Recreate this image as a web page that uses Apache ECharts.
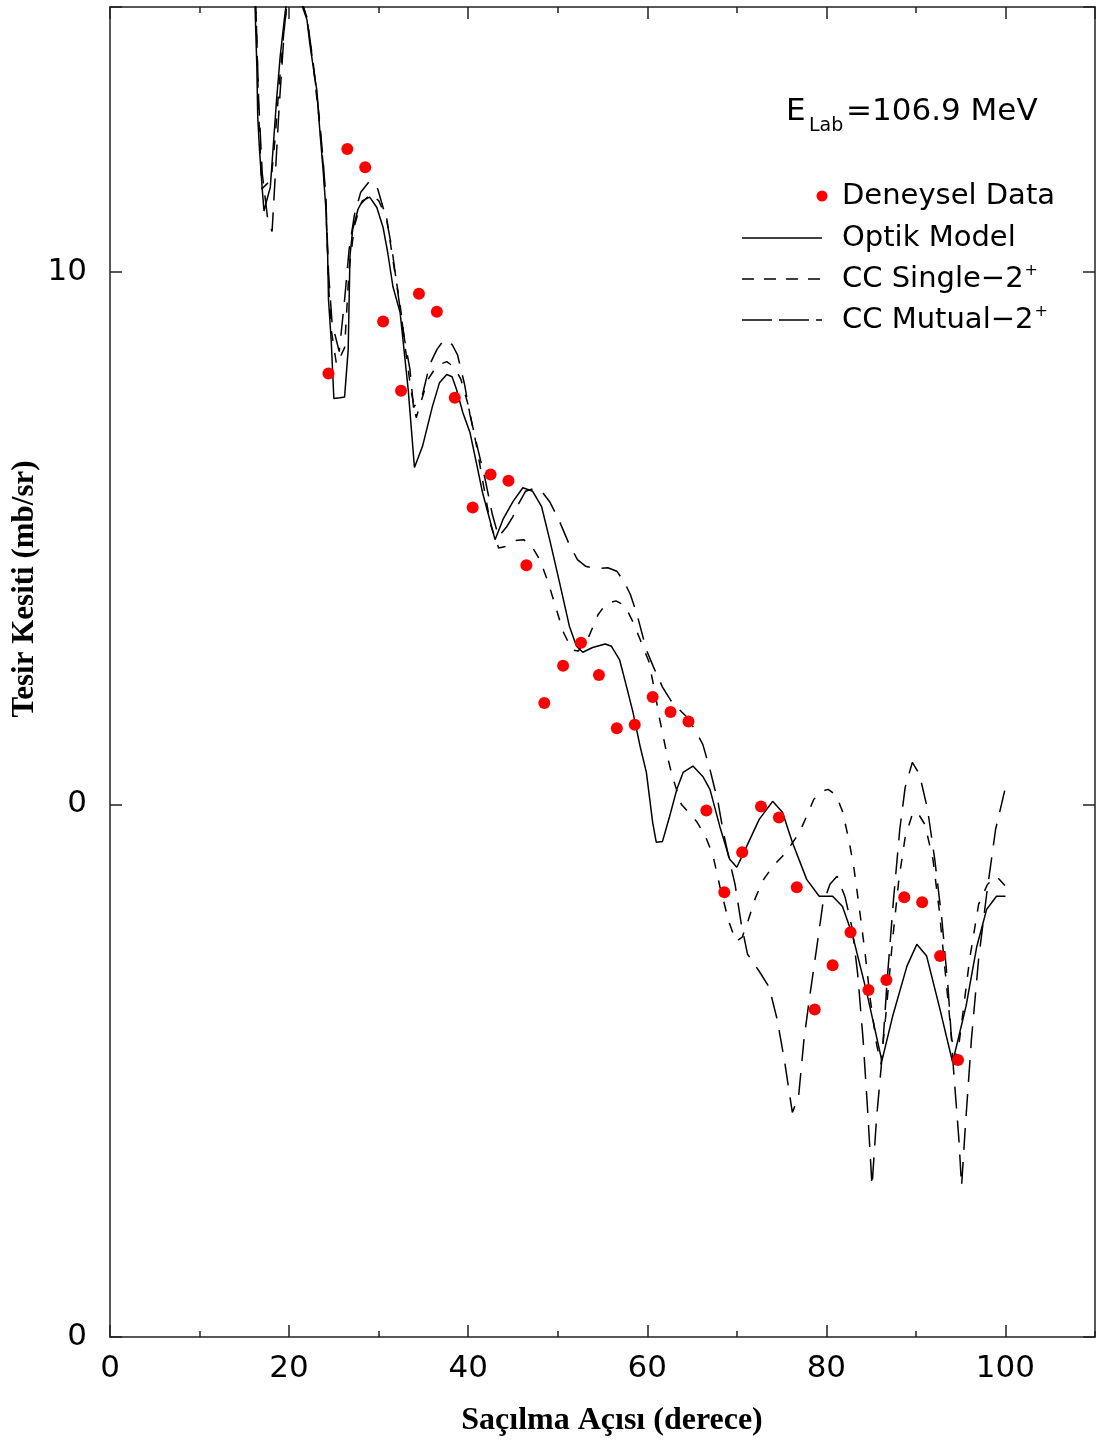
<!DOCTYPE html>
<html><head><meta charset="utf-8">
<script src="https://cdn.jsdelivr.net/npm/echarts@6/dist/echarts.min.js"></script>
<style>html,body{margin:0;padding:0;background:#fff}#c{width:1102px;height:1444px}</style>
</head><body><div id="c"></div>
<script>
// Experimental data (Deneysel Data)
const dataAngles = [24.4, 26.5, 28.5, 30.5, 32.5, 34.5, 36.5, 38.5, 40.5, 42.5, 44.5, 46.5,
  48.5, 50.6, 52.6, 54.6, 56.6, 58.6, 60.6, 62.6, 64.6, 66.6, 68.6, 70.6,
  72.7, 74.7, 76.7, 78.7, 80.7, 82.7, 84.7, 86.7, 88.7, 90.7, 92.7, 94.7];
const dataValues = [6.44, 17.0, 15.7, 8.06, 5.98, 9.09, 8.41, 5.80, 3.61, 4.16, 4.05, 2.81,
  1.55, 1.82, 2.01, 1.75, 1.39, 1.41, 1.59, 1.49, 1.43, 0.974, 0.684, 0.813,
  0.991, 0.945, 0.699, 0.412, 0.499, 0.575, 0.448, 0.468, 0.669, 0.655, 0.519, 0.331];

// Optik Model (solid)
const optikModel = [[16.0,45],[16.2,31.4],[16.4,24.2],[16.5,19.5],[16.7,16.9],[17.0,14.3],[17.2,13.0],[17.5,13.6],[17.9,14.4],[18.2,16.9],[18.6,21.0],[19.0,25.3],[19.5,30.1],[20.6,42],[21.5,31.4],[22.0,29.7],[22.3,26.9],[22.7,24.2],[23.1,21.9],[23.4,18.7],[23.8,15.5],[24.1,13.2],[24.3,10.9],[24.4,8.86],[24.7,7.45],[25.0,5.78],[25.7,5.80],[26.2,5.82],[26.6,7.14],[26.8,10.7],[27.1,12.0],[27.7,13.1],[28.2,13.6],[29.0,13.8],[29.8,13.2],[30.5,12.1],[31.0,10.9],[31.6,9.37],[32.4,8.38],[33.3,6.01],[34.0,4.29],[34.9,4.70],[36.0,5.58],[36.8,6.19],[37.6,6.41],[38.2,6.35],[38.7,6.01],[39.4,5.44],[40.2,4.99],[41.0,4.31],[41.6,3.85],[42.4,3.43],[43.0,3.14],[43.9,3.43],[45.0,3.70],[46.1,3.93],[47.2,3.87],[48.2,3.62],[49.1,3.14],[50.2,2.61],[51.3,2.16],[52.1,1.98],[52.8,1.93],[53.9,1.97],[55.3,2.00],[56.0,1.98],[56.9,1.87],[57.7,1.66],[58.4,1.49],[59.2,1.285],[59.9,1.148],[60.6,0.925],[61.0,0.849],[61.7,0.852],[62.5,0.950],[63.3,1.067],[64.0,1.148],[65.1,1.18],[66.2,1.128],[67.0,1.067],[68.1,0.909],[69.2,0.789],[70.0,0.762],[71.1,0.834],[72.5,0.937],[74.0,1.013],[75.1,0.966],[76.2,0.849],[77.8,0.723],[79.2,0.672],[80.7,0.672],[81.8,0.643],[82.9,0.570],[84.5,0.444],[86.2,0.330],[87.4,0.400],[89.0,0.497],[90.1,0.546],[91.2,0.519],[92.6,0.418],[94.1,0.328],[95.6,0.418],[96.8,0.541],[97.9,0.635],[99.0,0.672],[100.0,0.672]];

// CC Single-2+ (short dash)
const ccSingle = [[16.0,45],[16.3,31],[16.6,20],[16.95,14.3],[17.5,14.6],[18.0,14.9],[18.4,17.5],[18.9,22.5],[19.4,28],[20.6,43],[21.6,31.4],[22.0,29.9],[22.7,24.4],[23.4,19.0],[23.8,15.9],[24.1,13.5],[24.4,9.5],[24.7,7.8],[25.3,6.69],[26.2,7.20],[26.7,10.1],[27.3,12.2],[28.0,13.4],[29.1,14.0],[30.0,13.6],[30.9,12.6],[31.6,10.5],[32.4,8.67],[33.0,7.14],[33.6,6.01],[34.2,5.32],[34.8,5.75],[35.5,6.27],[36.5,6.66],[37.6,6.78],[38.5,6.61],[39.2,6.27],[40.0,5.62],[40.9,4.74],[41.7,3.98],[42.5,3.35],[43.4,3.03],[44.3,3.05],[45.3,3.13],[46.2,3.14],[47.0,3.07],[48.0,2.88],[48.9,2.62],[49.7,2.37],[50.6,2.11],[51.6,1.95],[52.3,1.94],[53.5,2.07],[54.5,2.27],[55.4,2.38],[56.5,2.41],[57.5,2.36],[58.4,2.20],[59.0,2.08],[60.2,1.85],[60.8,1.64],[61.4,1.44],[62.2,1.24],[62.8,1.128],[63.8,1.0],[64.6,0.966],[65.5,0.929],[66.4,0.878],[67.3,0.806],[68.1,0.702],[69.1,0.603],[69.9,0.553],[70.6,0.563],[71.3,0.608],[72.1,0.669],[73.0,0.723],[74.1,0.768],[75.1,0.799],[76.1,0.841],[77.0,0.886],[77.8,0.950],[78.6,1.022],[79.5,1.058],[80.2,1.067],[81.1,1.040],[81.8,0.970],[82.5,0.860],[83.1,0.755],[83.7,0.635],[84.3,0.530],[84.9,0.431],[85.6,0.355],[86.1,0.325],[86.7,0.412],[87.4,0.558],[88.1,0.723],[88.8,0.867],[89.6,0.958],[90.1,0.970],[91.0,0.917],[91.9,0.789],[92.6,0.635],[93.3,0.480],[94.0,0.362],[94.6,0.333],[95.3,0.412],[96.0,0.512],[97.0,0.649],[98.0,0.708],[99.0,0.733],[100.0,0.702]];

// CC Mutual-2+ (long dash)
const ccMutual = [[16.0,45],[16.3,31],[16.6,21],[17.0,15.3],[17.6,12.6],[18.1,11.9],[18.4,14.6],[18.9,20.5],[19.5,29],[20.6,44],[21.6,31.4],[22.0,30],[22.7,24.6],[23.4,19.3],[23.8,16.2],[24.1,13.8],[24.4,10.0],[24.8,8.0],[25.6,7.08],[26.2,8.86],[26.7,11.0],[27.3,12.8],[28.0,14.1],[29.0,14.8],[29.9,14.3],[30.9,12.5],[31.5,11.0],[32.1,9.25],[32.9,7.45],[33.5,6.55],[33.9,5.56],[34.9,5.88],[35.7,6.69],[36.5,7.14],[37.3,7.45],[38.2,7.30],[38.8,6.99],[39.6,6.14],[40.2,5.39],[41.1,4.63],[41.9,4.07],[42.7,3.50],[43.4,3.18],[44.3,3.32],[45.0,3.47],[45.6,3.66],[46.4,3.87],[47.4,3.92],[48.2,3.87],[49.1,3.70],[50.1,3.43],[51.2,3.10],[52.2,2.88],[53.1,2.80],[54.3,2.77],[55.6,2.78],[56.6,2.74],[57.4,2.62],[58.1,2.48],[58.8,2.29],[59.9,1.95],[60.7,1.81],[61.7,1.66],[62.8,1.55],[64.4,1.46],[65.5,1.365],[66.2,1.296],[67.0,1.163],[67.9,1.009],[68.5,0.886],[69.2,0.782],[69.8,0.708],[70.5,0.596],[71.2,0.523],[72.5,0.486],[73.6,0.454],[74.5,0.395],[75.3,0.332],[76.2,0.264],[76.9,0.283],[77.5,0.362],[78.1,0.431],[78.9,0.535],[79.6,0.649],[80.4,0.708],[81.2,0.733],[82.1,0.669],[82.9,0.583],[83.5,0.480],[84.1,0.362],[84.6,0.268],[85.1,0.192],[85.6,0.257],[86.2,0.332],[86.8,0.470],[87.5,0.663],[88.2,0.898],[88.8,1.076],[89.6,1.199],[90.4,1.138],[91.3,0.979],[92.1,0.789],[92.9,0.608],[93.6,0.450],[94.2,0.318],[94.8,0.235],[95.1,0.192],[95.5,0.2455],[96.2,0.362],[97.0,0.512],[97.9,0.678],[98.9,0.898],[100.0,1.076]];

// Axis tick labels (as printed in the original)
const yTickValues = [0.1, 1, 10];
const yTickTexts = ['0', '0', '10'];

const AX = '#222';
const chart = echarts.init(document.getElementById('c'), null, {renderer: 'canvas'});
const expData = dataAngles.map((a, i) => [a, dataValues[i]]);

function yLabel(v) {
  for (let i = 0; i < yTickValues.length; i++) {
    if (Math.abs(Math.log10(v) - Math.log10(yTickValues[i])) < 0.01) return yTickTexts[i];
  }
  return '';
}
const xMajorBase = {
  type: 'value', min: 0, max: 110, interval: 20,
  axisLine: {show: true, onZero: false, lineStyle: {color: AX, width: 1.5}},
  axisTick: {show: true, inside: true, length: 12, lineStyle: {color: AX, width: 1.5}},
  splitLine: {show: false}
};
const xMinorBase = {
  type: 'value', min: 0, max: 110, interval: 10,
  axisLine: {show: false},
  axisTick: {show: true, inside: true, length: 6, lineStyle: {color: AX, width: 1.5}},
  axisLabel: {show: false},
  splitLine: {show: false}
};
const yBase = {
  type: 'log', logBase: 10, min: 0.1, max: 31.4,
  axisLine: {show: true, onZero: false, lineStyle: {color: AX, width: 1.5}},
  axisTick: {show: true, inside: true, length: 12, lineStyle: {color: AX, width: 1.5}},
  splitLine: {show: false}, minorTick: {show: false}
};

const option = {
  animation: false,
  backgroundColor: '#fff',
  grid: {left: 110, right: 7, top: 7, bottom: 107, containLabel: false},
  xAxis: [
    Object.assign({}, xMajorBase, {position: 'bottom',
      axisLabel: {show: true, margin: 16, fontSize: 31, fontFamily: 'DejaVu Sans', color: '#000', showMaxLabel: false}}),
    Object.assign({}, xMajorBase, {position: 'top', axisLabel: {show: false}}),
    Object.assign({}, xMinorBase, {position: 'bottom'}),
    Object.assign({}, xMinorBase, {position: 'top'})
  ],
  yAxis: [
    Object.assign({}, yBase, {position: 'left',
      axisLabel: {show: true, margin: 23, fontSize: 31, fontFamily: 'DejaVu Sans', color: '#000', formatter: yLabel}}),
    Object.assign({}, yBase, {position: 'right', axisLabel: {show: false}})
  ],
  series: [
    {name: 'Optik Model', type: 'line', data: optikModel, symbol: 'none', clip: true, silent: true,
      lineStyle: {color: '#000', width: 1.5, type: 'solid'}, z: 3},
    {name: 'CC Single-2+', type: 'line', data: ccSingle, symbol: 'none', clip: true, silent: true,
      lineStyle: {color: '#000', width: 1.5, type: [10, 12]}, z: 3},
    {name: 'CC Mutual-2+', type: 'line', data: ccMutual, symbol: 'none', clip: true, silent: true,
      lineStyle: {color: '#000', width: 1.5, type: [22, 12]}, z: 3},
    {name: 'Deneysel Data', type: 'scatter', data: expData, symbol: 'circle', symbolSize: 12,
      itemStyle: {color: '#ff0000', opacity: 1}, z: 5}
  ],
  graphic: [
    // energy label
    {type: 'text', left: 786, top: 96, style: {text: 'E', font: '31px "DejaVu Sans"', fill: '#000'}},
    {type: 'text', left: 809, top: 117, style: {text: 'Lab', font: '19px "DejaVu Sans"', fill: '#000'}},
    {type: 'text', left: 846, top: 96, style: {text: '=106.9 MeV', font: '31px "DejaVu Sans"', fill: '#000'}},
    // legend
    {type: 'circle', shape: {cx: 822, cy: 196, r: 5.5}, style: {fill: '#ff0000'}},
    {type: 'text', x: 842, y: 196, style: {text: 'Deneysel Data', font: '29px "DejaVu Sans"', fill: '#000', verticalAlign: 'middle'}},
    {type: 'line', shape: {x1: 742, y1: 238, x2: 822, y2: 238}, style: {stroke: '#000', lineWidth: 1.5}},
    {type: 'text', x: 842, y: 238, style: {text: 'Optik Model', font: '29px "DejaVu Sans"', fill: '#000', verticalAlign: 'middle'}},
    {type: 'line', shape: {x1: 742, y1: 279, x2: 822, y2: 279}, style: {stroke: '#000', lineWidth: 1.5, lineDash: [12, 10]}},
    {type: 'text', x: 842, y: 279, style: {text: '{t|CC Single\u22122}{s|+}', verticalAlign: 'middle',
      rich: {t: {font: '29px "DejaVu Sans"', fill: '#000', color: '#000'}, s: {fontSize: 16, fontFamily: 'DejaVu Sans', color: '#000', verticalAlign: 'top', padding: [0, 0, 16, 1]}}}},
    {type: 'line', shape: {x1: 742, y1: 320, x2: 822, y2: 320}, style: {stroke: '#000', lineWidth: 1.5, lineDash: [30, 7]}},
    {type: 'text', x: 842, y: 320, style: {text: '{t|CC Mutual\u22122}{s|+}', verticalAlign: 'middle',
      rich: {t: {font: '29px "DejaVu Sans"', fill: '#000', color: '#000'}, s: {fontSize: 16, fontFamily: 'DejaVu Sans', color: '#000', verticalAlign: 'top', padding: [0, 0, 16, 1]}}}},
    // axis names
    {type: 'text', x: 612, y: 1421, style: {text: 'Saçılma Açısı (derece)', font: 'bold 32px "Liberation Serif"', fill: '#000', align: 'center', verticalAlign: 'middle'}},
    {type: 'text', x: 25, y: 589, rotation: Math.PI / 2, style: {text: 'Tesir Kesiti (mb/sr)', font: 'bold 31px "Liberation Serif"', fill: '#000', align: 'center', verticalAlign: 'middle'}}
  ]
};
chart.setOption(option);
</script>
</body></html>
